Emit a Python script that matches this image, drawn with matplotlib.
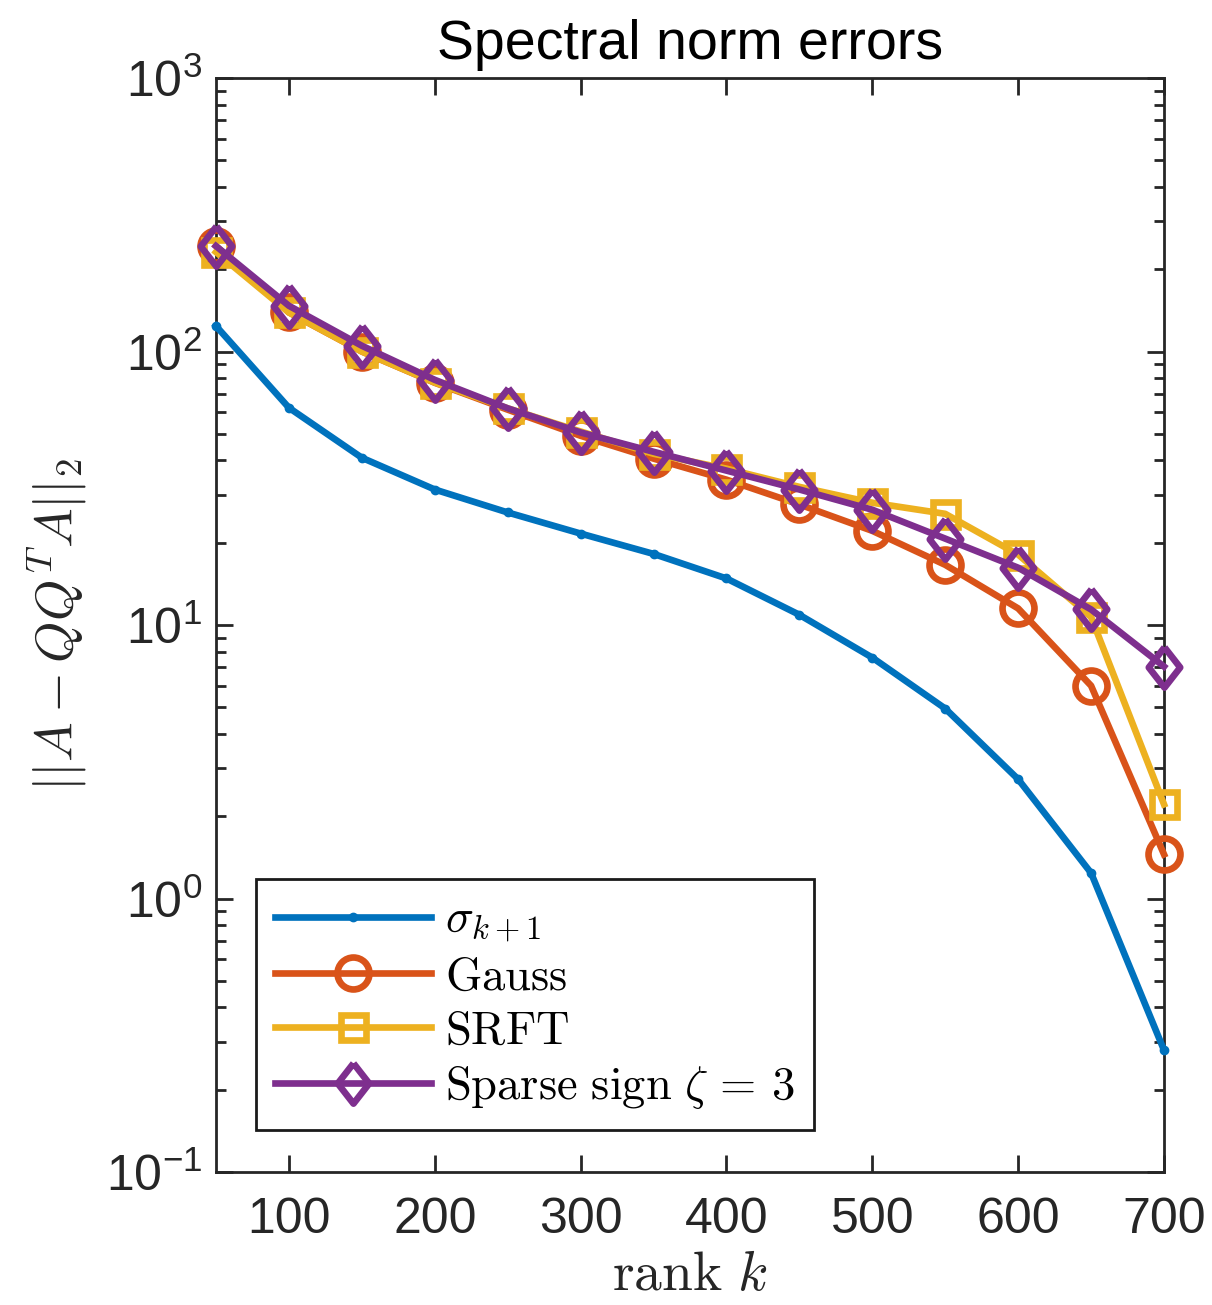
import matplotlib
matplotlib.use("Agg")
import matplotlib.pyplot as plt
from matplotlib.ticker import LogLocator, NullFormatter, FixedLocator

plt.rcParams['font.family'] = ['Liberation Sans', 'DejaVu Sans']
plt.rcParams['mathtext.fontset'] = 'cm'

# Sketch rank and the error of each sketching method
rank_k = [50, 100, 150, 200, 250, 300, 350, 400, 450, 500, 550, 600, 650, 700]
sigma_k1 = [124, 62.3, 40.9, 31.3, 25.8, 21.6, 18.2, 14.8, 10.9, 7.6, 4.95, 2.73, 1.24, 0.279]
err_gauss = [243, 139, 100, 76.9, 61.3, 49.2, 40.6, 34.0, 27.6, 22.1, 16.6, 11.5, 6.0, 1.45]
err_srft = [231, 139, 100, 77.0, 62.0, 51.0, 42.3, 37.3, 32.0, 28.0, 25.5, 18.1, 10.7, 2.21]
err_sparse = [243, 147, 105, 78.8, 62.0, 50.6, 43.0, 36.7, 31.3, 26.4, 20.7, 16.2, 11.4, 7.05]

x_ticks = [100, 200, 300, 400, 500, 600, 700]

blue = '#0072BD'
orange = '#D95319'
yellow = '#EDB120'
purple = '#7E2F8E'
axis_col = '#262626'

fig = plt.figure(figsize=(12.12, 13.05), dpi=100)
ax = fig.add_axes([0.1782, 0.1019, 0.9604 - 0.1782, 0.9402 - 0.1019])

lw = 4.8
diamond = [(0, 1), (0.78, 0), (0, -1), (-0.78, 0), (0, 1)]

ax.plot(rank_k, sigma_k1, color=blue, lw=lw, marker='o', ms=6,
        label=r'$\sigma_{k+1}$', zorder=3, clip_on=False)
ax.plot(rank_k, err_gauss, color=orange, lw=lw, marker='o', ms=23,
        mfc='none', mew=lw, label=r'$\mathrm{Gauss}$', zorder=4, clip_on=False)
ax.plot(rank_k, err_srft, color=yellow, lw=lw, marker='s', ms=18,
        mfc='none', mew=lw, label=r'$\mathrm{SRFT}$', zorder=5, clip_on=False)
ax.plot(rank_k, err_sparse, color=purple, lw=lw, marker=diamond, ms=29,
        mfc='none', mew=lw, label=r'$\mathrm{Sparse\ sign}\ \zeta\,=\,3$',
        zorder=6, clip_on=False)

ax.set_yscale('log')
ax.set_xlim(50, 700)
ax.set_ylim(0.1, 1000)
ax.xaxis.set_major_locator(FixedLocator(x_ticks))
ax.yaxis.set_major_locator(LogLocator(base=10, numticks=10))
ax.yaxis.set_minor_locator(LogLocator(base=10, subs=range(2, 10), numticks=10))
ax.yaxis.set_minor_formatter(NullFormatter())

for side in ax.spines.values():
    side.set_color(axis_col)
    side.set_linewidth(2.0)
ax.tick_params(which='both', direction='in', top=True, right=True,
               colors=axis_col, width=2.0)
ax.tick_params(which='major', length=12, labelsize=36, pad=10)
ax.tick_params(axis='x', which='major', pad=18)
ax.tick_params(which='minor', length=7)

ax.set_title('Spectral norm errors', fontsize=40, color='black', pad=14)
ax.set_xlabel(r'$\mathrm{rank}\ k$', fontsize=40, color=axis_col, labelpad=5)
ax.set_ylabel(r'$||A - QQ^TA||_2$', fontsize=38, color=axis_col, labelpad=12)

leg = ax.legend(loc='lower left', bbox_to_anchor=(0.042, 0.038), fontsize=33.5,
                frameon=True, fancybox=False, edgecolor='#1a1a1a', framealpha=1,
                borderaxespad=0, handlelength=3.35, borderpad=0.42,
                labelspacing=0.22, handletextpad=0.3)
leg.get_frame().set_linewidth(2.0)

fig.savefig('out.png', dpi=100)
